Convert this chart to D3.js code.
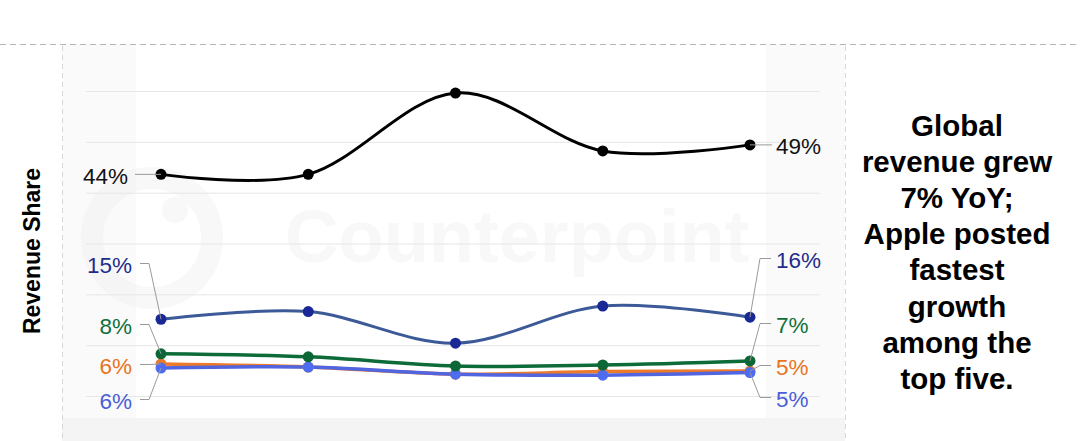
<!DOCTYPE html>
<html>
<head>
<meta charset="utf-8">
<script src="https://cdn.jsdelivr.net/npm/d3@7"></script>
<style>
  body { margin: 0; background: #fff; }
  svg { display: block; font-family: "Liberation Sans", Arial, sans-serif; }
</style>
</head>
<body>
<div id="chart"></div>
<script>
// periods on the x axis (not labelled in the picture)
var periods = ["P1", "P2", "P3", "P4", "P5"];

// revenue share per brand, %
var appleShare   = [43.6, 43.6, 59.6, 48.2, 49.4];
var samsungShare = [15.1, 16.6, 10.4, 17.7, 15.5];
var greenShare   = [8.3, 7.7, 5.9, 6.1, 6.9];
var orangeShare  = [6.3, 5.7, 4.3, 4.8, 4.9];
var blueShare    = [5.5, 5.7, 4.3, 4.1, 4.6];

var startLabels = ["44%", "15%", "8%", "6%", "6%"];
var endLabels   = ["49%", "16%", "7%", "5%", "5%"];

var yTicks = [0, 10, 20, 30, 40, 50, 60];

var noteLines = ["Global", "revenue grew", "7% YoY;", "Apple posted",
                 "fastest", "growth", "among the", "top five."];

var svgWidth = 1080;
var svgHeight = 441;

var svg = d3.select("#chart")
    .append("svg")
    .attr("width", svgWidth)
    .attr("height", svgHeight);

// background panels
svg.append("rect").attr("x", 62).attr("y", 44).attr("width", 74).attr("height", 397).attr("fill", "#fafafa");
svg.append("rect").attr("x", 766).attr("y", 44).attr("width", 79).attr("height", 397).attr("fill", "#fafafa");
svg.append("rect").attr("x", 62).attr("y", 418).attr("width", 783).attr("height", 23).attr("fill", "#f4f4f4");

// dashed frame lines
svg.append("line").attr("x1", 0).attr("x2", svgWidth).attr("y1", 44.5).attr("y2", 44.5)
    .attr("stroke", "#b5b5b5").attr("stroke-dasharray", "6,4");
svg.append("line").attr("x1", 62.5).attr("x2", 62.5).attr("y1", 46).attr("y2", svgHeight)
    .attr("stroke", "#d8d8d8").attr("stroke-dasharray", "5,4");
svg.append("line").attr("x1", 845.5).attr("x2", 845.5).attr("y1", 46).attr("y2", svgHeight)
    .attr("stroke", "#d8d8d8").attr("stroke-dasharray", "5,4");

// faint watermark
var wm = svg.append("g").attr("opacity", 0.45);
wm.append("circle").attr("cx", 152).attr("cy", 238).attr("r", 60)
    .attr("fill", "none").attr("stroke", "#f0f0f0").attr("stroke-width", 22);
wm.append("circle").attr("cx", 175).attr("cy", 210).attr("r", 13).attr("fill", "#f0f0f0");
wm.append("text").attr("x", 285).attr("y", 262)
    .attr("font-size", 74).attr("font-weight", "bold").attr("fill", "#f0f0f0")
    .text("Counterpoint");

var x = d3.scalePoint()
    .domain(periods)
    .range([161, 750]);

var y = d3.scaleLinear()
    .domain([0, 60])
    .range([396, 91]);

// gridlines
svg.append("g")
    .attr("transform", "translate(86,0)")
    .call(d3.axisLeft(y).tickValues(yTicks).tickSize(-734).tickFormat(""))
    .call(g => g.select(".domain").remove())
    .call(g => g.selectAll("line").attr("stroke", "#e6e6e6"));

var series = [
    { values: orangeShare,  line: "#ed7a2a", dot: "#ed7a2a", text: "#e8741c", width: 3.5 },
    { values: blueShare,    line: "#5165e0", dot: "#4d6cf0", text: "#4b5ed8", width: 3.5 },
    { values: greenShare,   line: "#0c6b38", dot: "#0d6636", text: "#11703a", width: 3.5 },
    { values: samsungShare, line: "#3d5a98", dot: "#1a2896", text: "#1f2c8c", width: 3 },
    { values: appleShare,   line: "#000000", dot: "#000000", text: "#111111", width: 3 }
];

var lineGen = d3.line()
    .x((d, i) => x(periods[i]))
    .y(d => y(d))
    .curve(d3.curveCardinal.tension(0));

series.forEach(function(s) {
    svg.append("path")
        .attr("d", lineGen(s.values))
        .attr("fill", "none")
        .attr("stroke", s.line)
        .attr("stroke-width", s.width);
});

series.forEach(function(s) {
    svg.selectAll(null)
        .data(s.values)
        .enter()
        .append("circle")
        .attr("cx", (d, i) => x(periods[i]))
        .attr("cy", d => y(d))
        .attr("r", 5.5)
        .attr("fill", s.dot);
});

// end labels with leader lines; order: apple, samsung, green, orange, blue
var labelSeries = [series[4], series[3], series[2], series[0], series[1]];
var leftY  = [176, 265, 326, 366, 401];
var rightY = [146, 260, 325, 367, 399];

var leaders = svg.append("g").attr("fill", "none").attr("stroke", "#9a9a9a").attr("stroke-width", 1);

labelSeries.forEach(function(s, k) {
    var x0 = x(periods[0]), y0 = y(s.values[0]);
    var x1 = x(periods[periods.length - 1]), y1 = y(s.values[s.values.length - 1]);
    var ly = leftY[k] - 1.5, ry = rightY[k] - 1.5;

    if (k === 0) {
        leaders.append("path").attr("d", `M135,${y0}H${x0}`);
        leaders.append("path").attr("d", `M${x1},${y1}H772`);
    } else {
        leaders.append("path").attr("d", `M140,${ly}H149L${x0},${y0}`);
        leaders.append("path").attr("d", `M${x1},${y1}L760,${ry}H771`);
    }

    svg.append("text")
        .attr("x", k === 0 ? 128 : 132)
        .attr("y", leftY[k])
        .attr("text-anchor", "end")
        .attr("dominant-baseline", "central")
        .attr("font-size", 22.5)
        .attr("fill", s.text)
        .text(startLabels[k]);

    svg.append("text")
        .attr("x", 776)
        .attr("y", rightY[k])
        .attr("dominant-baseline", "central")
        .attr("font-size", 22.5)
        .attr("fill", s.text)
        .text(endLabels[k]);
});

// y axis title
svg.append("text")
    .attr("transform", "translate(32,251) rotate(-90)")
    .attr("text-anchor", "middle")
    .attr("dominant-baseline", "central")
    .attr("font-size", 23)
    .attr("font-weight", "bold")
    .attr("fill", "#000")
    .text("Revenue Share");

// note on the right
svg.append("g")
    .selectAll("text")
    .data(noteLines)
    .enter()
    .append("text")
    .attr("x", 957)
    .attr("y", (d, i) => 125 + i * 36.2)
    .attr("text-anchor", "middle")
    .attr("dominant-baseline", "central")
    .attr("font-size", 29.5)
    .attr("font-weight", "bold")
    .attr("fill", "#000")
    .text(d => d);
</script>
</body>
</html>
